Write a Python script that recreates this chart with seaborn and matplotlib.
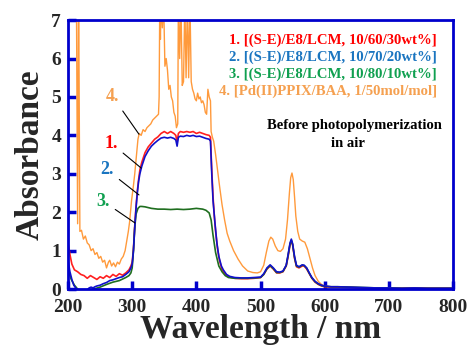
import numpy as np
import pandas as pd
import matplotlib
matplotlib.use("Agg")
import matplotlib.pyplot as plt
import seaborn as sns

# ---- data ----
wl1 = [200,203,206,210,215,220,225,230,235,240,245,250,255,260,265,270,275,280,285,290,295,
       298,300,302,304,306,308,310,312,315,320,325,330,335,340,345,350,355,360,365,368,370,372,
       375,380,385,390,395,400,405,410,415,420,422,424,426,428,430,433,436,440,445,450,460,470,
       480,490,500,505,510,515,520,525,530,535,540,543,546,548,550,553,556,560,565,568,572,576,
       580,585,590,595,600,610,620,640,660,680,700,720,740,760,780,800]
ab1 = [1.2,0.9,0.65,0.5,0.45,0.38,0.35,0.28,0.35,0.3,0.25,0.32,0.28,0.35,0.3,0.38,0.33,0.4,0.36,0.42,0.5,
       0.6,0.7,1.05,1.65,2.15,2.55,2.85,3.1,3.3,3.55,3.7,3.8,3.9,3.96,4.05,4.1,4.05,4.1,4.05,4.0,3.82,4.05,
       4.1,4.08,4.1,4.08,4.1,4.05,4.08,4.05,4.02,4.0,3.95,3.1,2.4,1.9,1.5,1.05,0.75,0.5,0.38,0.32,0.28,0.27,
       0.27,0.28,0.3,0.38,0.52,0.6,0.52,0.42,0.42,0.45,0.6,0.85,1.15,1.25,1.15,0.8,0.58,0.55,0.6,0.6,0.52,0.4,
       0.28,0.18,0.12,0.08,0.06,0.05,0.05,0.04,0.03,0.02,0.02,0.02,0.03,0.02,0.02,0.02]

wl2 = [200,203,206,209,212,215,220,225,230,233,236,239,242,245,250,255,260,265,270,275,280,285,290,295,
       298,300,302,304,306,308,310,312,315,320,325,330,335,340,345,350,355,360,365,368,370,372,375,380,385,
       390,395,400,405,410,415,420,422,424,426,429,432,435,439,442,447,452,460,470,480,490,500,505,510,515,
       520,525,530,535,540,543,546,548,550,553,556,560,565,568,572,576,580,585,590,595,600,610,620,640,660,
       680,700,720,740,760,780,800]
ab2 = [0.75,0.45,0.25,0.1,0.03,-0.05,-0.1,-0.08,-0.02,0.03,0.05,0.03,0.06,0.08,0.1,0.14,0.17,0.22,0.24,0.27,0.3,0.32,0.38,0.45,
       0.55,0.65,1.0,1.6,2.1,2.5,2.8,3.0,3.2,3.45,3.6,3.72,3.8,3.87,3.93,3.95,3.93,3.95,3.92,3.88,3.72,3.95,3.98,3.97,4.0,
       3.98,4.0,3.97,3.98,3.95,3.92,3.9,3.85,3.0,2.3,1.72,1.2,0.85,0.6,0.5,0.38,0.33,0.3,0.29,0.29,0.3,0.31,0.4,0.55,0.63,
       0.55,0.45,0.44,0.47,0.62,0.9,1.2,1.3,1.18,0.85,0.62,0.58,0.63,0.62,0.55,0.42,0.3,0.2,0.14,0.1,0.08,0.06,0.06,0.05,0.04,
       0.03,0.03,0.02,0.03,0.02,0.02,0.02]

wl3 = [200,205,210,215,220,230,240,250,260,270,280,290,295,298,300,302,304,306,309,312,315,320,325,330,340,350,
       360,370,380,390,400,410,415,420,423,426,430,435,440,445,450,460,470,480,490,500,505,510,515,520,525,530,535,
       540,543,546,548,550,553,556,560,565,568,572,576,580,585,590,595,600,610,620,640,660,680,700,720,740,760,780,800]
ab3 = [0.5,0.25,0.1,0.0,-0.05,-0.05,0.0,0.05,0.12,0.18,0.22,0.3,0.35,0.42,0.55,1.0,1.6,1.95,2.1,2.15,2.15,2.14,2.12,2.1,2.08,2.08,
       2.07,2.08,2.07,2.08,2.1,2.08,2.05,1.98,1.8,1.4,0.95,0.6,0.45,0.35,0.3,0.28,0.28,0.28,0.29,0.3,0.38,0.53,0.61,0.53,0.43,0.43,0.46,
       0.61,0.88,1.18,1.27,1.16,0.82,0.6,0.57,0.62,0.61,0.54,0.41,0.29,0.19,0.13,0.09,0.07,0.06,0.06,0.05,0.04,0.03,0.03,0.02,0.02,0.02,0.02,0.02]

wl4 = [213,215,216.5,218.5,221,224,227,230,233,236,239,242,245,248,251,254,257,260,263,265,268,271,274,277,280,283,286,289,
       291,294,296,299,302,304,307,309,311,314,317,320,323,326,329,332,335,338,341,342,343,344,345,347,349,351,353,355,357,
       359,361,363,365,367,369,371,372,374,376,378,380,382,384,386,388,390,392,394,396,398,400,402,404,406,408,410,412,414,
       416,418,420,422,423,425,427,430,433,436,440,444,448,452,458,465,472,480,488,495,500,505,509,513,516,519,523,527,531,
       535,539,542,545,547,549,551,553,555,558,561,565,569,573,577,581,585,590,595,600,610,620,640,660,680,700,720,740,760,780,800]
ab4 = [8,1.7,8,1.5,1.53,1.3,1.38,1.2,1.15,1.0,1.05,0.9,0.95,0.8,0.85,0.7,0.75,0.55,0.7,0.75,0.6,0.68,0.58,0.7,0.65,0.78,0.85,1.0,
       1.2,1.5,1.75,2.3,2.7,3.0,3.55,3.9,4.05,4.0,4.15,4.1,4.2,4.25,4.3,4.4,4.45,4.5,4.55,5.0,7.5,6.5,7.5,6.8,7.5,5.8,6.0,5.7,5.2,
       5.3,5.0,4.9,4.6,4.5,4.2,4.3,7.5,6.0,7.5,5.3,5.4,7.5,5.5,7.5,5.5,7.5,5.4,5.2,5.1,4.95,4.9,5.1,4.95,5.0,4.85,4.9,4.8,4.6,
       4.55,5.2,5.0,4.9,4.1,3.95,3.85,3.5,3.1,2.7,2.2,1.8,1.45,1.25,1.0,0.78,0.6,0.47,0.43,0.42,0.45,0.62,0.95,1.25,1.35,1.3,1.12,1.0,0.98,
       1.05,1.3,1.8,2.5,2.9,3.02,2.85,2.4,1.9,1.5,1.3,1.25,1.22,1.05,0.8,0.55,0.35,0.2,0.12,0.08,0.06,0.05,0.04,0.03,0.03,0.02,0.02,0.02,0.02,0.02,0.02]

series_names = ["s1", "s2", "s3", "s4"]
line_colors = ["#ff2020", "#1010cc", "#1f6e1f", "#ff9a3c"]
label_colors = ["#ff0000", "#1a75c0", "#10a050", "#f5a050"]
legend_texts = ["1. [(S-E)/E8/LCM, 10/60/30wt%]",
                "2. [(S-E)/E8/LCM, 10/70/20wt%]",
                "3. [(S-E)/E8/LCM, 10/80/10wt%]",
                "4. [Pd(II)PPIX/BAA, 1/50mol/mol]"]
xticks = [200, 300, 400, 500, 600, 700, 800]
yticks = [0, 1, 2, 3, 4, 5, 6, 7]

frames = []
for name, wl, ab in zip(series_names, [wl1, wl2, wl3, wl4], [ab1, ab2, ab3, ab4]):
    frames.append(pd.DataFrame({"wl": wl, "ab": ab, "s": name}))
df = pd.concat(frames, ignore_index=True)

# ---- plot ----
sns.set_style("ticks")
plt.rcParams["font.family"] = ["Liberation Serif", "DejaVu Serif"]
plt.rcParams["font.weight"] = "bold"

fig = plt.figure(figsize=(4.69, 3.47), dpi=100)
ax = fig.add_axes([0.145, 0.167, 0.821, 0.775])

order_draw = ["s4", "s1", "s3", "s2"]
for name in order_draw:
    i = series_names.index(name)
    sub = df[df["s"] == name]
    sns.lineplot(data=sub, x="wl", y="ab", ax=ax, color=line_colors[i],
                 lw=1.0 if name == "s4" else 1.2, sort=False, estimator=None, legend=False)
ax.set_xlim(200, 800)
ax.set_ylim(0, 7)
ax.set_xticks(xticks)
ax.set_yticks(yticks)
ax.set_xticklabels([str(t) for t in xticks], fontsize=14, fontweight="bold")
ax.set_yticklabels([str(t) for t in yticks], fontsize=14, fontweight="bold")
ax.set_xlabel("Wavelength / nm", fontsize=24, fontweight="bold", labelpad=-1)
ax.set_ylabel("Absorbance", fontsize=24, fontweight="bold", labelpad=4)
for sp in ax.spines.values():
    sp.set_color("#0000cc")
    sp.set_linewidth(2)
ax.tick_params(direction="in", length=6, width=2.5, color="#0000cc")
ax.tick_params(axis="x", pad=7)
ax.tick_params(axis="y", pad=5)

# legend texts
ys = [0.926, 0.862, 0.799, 0.736]
for t, c, y in zip(legend_texts, label_colors, ys):
    ax.text(0.958, y, t, transform=ax.transAxes, ha="right", va="center",
            color=c, fontsize=10.6, fontweight="bold")
ax.text(0.745, 0.61, "Before photopolymerization", transform=ax.transAxes,
        ha="center", va="center", fontsize=10.5, fontweight="bold", color="black")
ax.text(0.728, 0.543, "in air", transform=ax.transAxes,
        ha="center", va="center", fontsize=10.5, fontweight="bold", color="black")

# curve labels
ann = [("4.", (270, 5.0), (310.6, 4.03), label_colors[3]),
       ("1.", (267, 3.8), (314, 3.15), label_colors[0]),
       ("2.", (261, 3.1), (310.6, 2.45), label_colors[1]),
       ("3.", (254.5, 2.29), (304.4, 1.72), label_colors[2])]
for txt, xyt, xy, c in ann:
    ax.annotate(txt, xy=xy, xytext=xyt, color=c, fontsize=13, fontweight="bold",
                ha="center", va="center",
                arrowprops=dict(arrowstyle="-", color="black", lw=0.8, shrinkA=2, shrinkB=0))

fig.savefig("out.png", dpi=100)
